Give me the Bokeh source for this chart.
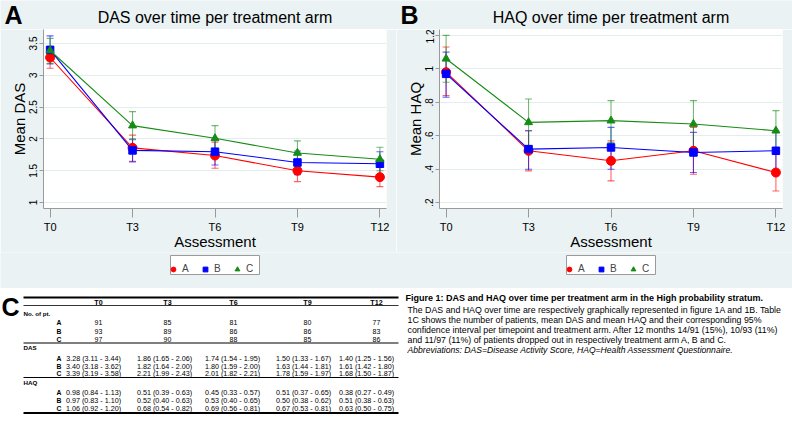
from bokeh.plotting import figure
from bokeh.models import (Range1d, FixedTicker, Legend, LegendItem, Whisker,
                          TeeHead, ColumnDataSource)
from bokeh.layouts import column, row
from bokeh.embed import file_html
from bokeh.resources import INLINE
from bokeh.core.properties import value

# ---------------- data ----------------
timepoints = ["T0", "T3", "T6", "T9", "T12"]
months = [0, 3, 6, 9, 12]
arms = ["A", "B", "C"]

n_pt_A = [91, 85, 81, 80, 77]
n_pt_B = [93, 89, 86, 86, 83]
n_pt_C = [97, 90, 88, 85, 86]

das_mean_A = [3.28, 1.86, 1.74, 1.50, 1.40]
das_low_A = [3.11, 1.65, 1.54, 1.33, 1.25]
das_high_A = [3.44, 2.06, 1.95, 1.67, 1.56]
das_mean_B = [3.40, 1.82, 1.80, 1.63, 1.61]
das_low_B = [3.18, 1.64, 1.59, 1.44, 1.42]
das_high_B = [3.62, 2.00, 2.00, 1.81, 1.80]
das_mean_C = [3.39, 2.21, 2.01, 1.78, 1.68]
das_low_C = [3.19, 1.99, 1.82, 1.59, 1.50]
das_high_C = [3.58, 2.43, 2.21, 1.97, 1.87]

haq_mean_A = [0.98, 0.51, 0.45, 0.51, 0.38]
haq_low_A = [0.84, 0.39, 0.33, 0.37, 0.27]
haq_high_A = [1.13, 0.63, 0.57, 0.65, 0.49]
haq_mean_B = [0.97, 0.52, 0.53, 0.50, 0.51]
haq_low_B = [0.83, 0.40, 0.40, 0.38, 0.38]
haq_high_B = [1.10, 0.63, 0.65, 0.62, 0.63]
haq_mean_C = [1.06, 0.68, 0.69, 0.67, 0.63]
haq_low_C = [0.92, 0.54, 0.56, 0.53, 0.50]
haq_high_C = [1.20, 0.82, 0.81, 0.81, 0.75]

das_ticks = [1, 1.5, 2, 2.5, 3, 3.5]
das_tick_labels = ["1", "1.5", "2", "2.5", "3", "3.5"]
haq_ticks = [0.2, 0.4, 0.6, 0.8, 1.0, 1.2]
haq_tick_labels = [".2", ".4", ".6", ".8", "1", "1.2"]

panel_letters = ["A", "B"]
panel_titles = ["DAS over time per treatment arm", "HAQ over time per treatment arm"]
caption_lines = [
    "Figure 1: DAS and HAQ over time per treatment arm in the High probability stratum.",
    "The DAS and HAQ over time are respectively graphically represented in figure 1A and 1B. Table",
    "1C shows the number of patients, mean DAS and mean HAQ and their corresponding 95%",
    "confidence interval per timepoint and treatment arm. After 12 months 14/91 (15%), 10/93 (11%)",
    "and 11/97 (11%) of patients dropped out in respectively treatment arm A, B and C.",
    "Abbreviations: DAS=Disease Activity Score, HAQ=Health Assessment Questionnaire.",
]

# ---------------- styles ----------------
BG = "#EAF2F3"
FONT = "Liberation Sans"
AXIS_GRAY = "#9A9A9A"
arm_colors = {"A": "#FF0000", "B": "#0000FF", "C": "#168C16"}
arm_markers = {"A": "circle", "B": "square", "C": "triangle"}
arm_sizes = {"A": 9, "B": 7.5, "C": 8}


def strip(height, y_top, bg):
    s = figure(width=792, height=height, output_backend="svg", toolbar_location=None,
               x_range=Range1d(0, 792), y_range=Range1d(y_top + height, y_top),
               x_axis_type=None, y_axis_type=None, min_border=0)
    s.outline_line_color = None
    s.background_fill_color = bg
    s.border_fill_color = bg
    return s


# ---- top strip: panel letters and titles ----
top = strip(29, 0, BG)
top.text(x=[4, 400], y=[14, 14], text=panel_letters, text_font=value(FONT),
         text_font_size="25px", text_font_style="bold", text_baseline="middle")
top.text(x=[214.5, 610.5], y=[17.3, 17.3], text=panel_titles, text_font=value(FONT),
         text_font_size="16px", text_align="center", text_baseline="middle")


def make_panel(ylabel, series, yrange, yticks, ylabels):
    p = figure(width=396, height=223, output_backend="svg", toolbar_location=None,
               x_range=Range1d(-0.24, 12.24), y_range=Range1d(*yrange),
               min_border_left=43, min_border_right=10,
               min_border_top=0, min_border_bottom=41)
    p.background_fill_color = "white"
    p.border_fill_color = BG
    p.outline_line_color = None
    p.xgrid.visible = False
    p.ygrid.grid_line_color = "#E3ECEE"
    p.ygrid.ticker = FixedTicker(ticks=yticks)

    xa = p.xaxis[0]
    xa.ticker = FixedTicker(ticks=months)
    xa.major_label_overrides = {m: t for m, t in zip(months, timepoints)}
    xa.axis_line_color = AXIS_GRAY
    xa.major_tick_line_color = AXIS_GRAY
    xa.major_tick_out = 9
    xa.major_tick_in = 0
    xa.minor_tick_line_color = None
    xa.major_label_standoff = 3
    xa.major_label_text_font = FONT
    xa.major_label_text_font_size = "11px"
    xa.major_label_text_color = "black"
    xa.axis_label = "Assessment"
    xa.axis_label_text_font = FONT
    xa.axis_label_text_font_size = "15px"
    xa.axis_label_text_font_style = "normal"
    xa.axis_label_text_color = "black"
    xa.axis_label_standoff = -3

    ya = p.yaxis[0]
    ya.ticker = FixedTicker(ticks=yticks)
    ya.major_label_overrides = {t: l for t, l in zip(yticks, ylabels)}
    ya.axis_line_color = AXIS_GRAY
    ya.major_tick_line_color = AXIS_GRAY
    ya.major_tick_out = 4
    ya.major_tick_in = 0
    ya.minor_tick_line_color = None
    ya.major_label_orientation = "vertical"
    ya.major_label_standoff = 2
    ya.major_label_text_font = FONT
    ya.major_label_text_font_size = "10px"
    ya.major_label_text_color = "black"
    ya.axis_label = ylabel
    ya.axis_label_text_font = FONT
    ya.axis_label_text_font_size = "15px"
    ya.axis_label_text_font_style = "normal"
    ya.axis_label_text_color = "black"
    ya.axis_label_standoff = -1

    for arm in arms:
        mean, low, high = series[arm]
        col = arm_colors[arm]
        src = ColumnDataSource(dict(x=months, m=mean, lo=low, hi=high))
        p.line("x", "m", source=src, line_color=col, line_width=1.1)
        w = Whisker(source=src, base="x", lower="lo", upper="hi", dimension="height",
                    line_color=col, line_alpha=0.6, line_width=1.1,
                    upper_head=TeeHead(size=7, line_color=col, line_alpha=0.6, line_width=1.1),
                    lower_head=TeeHead(size=7, line_color=col, line_alpha=0.6, line_width=1.1))
        p.add_layout(w)
        p.scatter("x", "m", source=src, marker=arm_markers[arm], size=arm_sizes[arm],
                  fill_color=col, line_color=col)
    return p


pA = make_panel("Mean DAS",
                {"A": (das_mean_A, das_low_A, das_high_A),
                 "B": (das_mean_B, das_low_B, das_high_B),
                 "C": (das_mean_C, das_low_C, das_high_C)},
                (0.907, 3.72), das_ticks, das_tick_labels)
pB = make_panel("Mean HAQ",
                {"A": (haq_mean_A, haq_low_A, haq_high_A),
                 "B": (haq_mean_B, haq_low_B, haq_high_B),
                 "C": (haq_mean_C, haq_low_C, haq_high_C)},
                (0.165, 1.235), haq_ticks, haq_tick_labels)

# ---- legend strip (keys for the two panels) ----
leg = strip(36, 252, BG)
box_left = [170, 566]
box_width = 89
leg.quad(left=box_left, right=[b + box_width for b in box_left], top=[255, 255],
         bottom=[274, 274], fill_color="white", line_color=AXIS_GRAY, line_width=1)
key_renderers = []
for arm in arms:
    # a single key point placed far outside the visible strip, only used by the legend
    key_renderers.append(leg.scatter(x=[-1000], y=[-1000], marker=arm_markers[arm],
                                     size=arm_sizes[arm], fill_color=arm_colors[arm],
                                     line_color=arm_colors[arm]))
for bl in box_left:
    legend = Legend(items=[LegendItem(label=a, renderers=[r]) for a, r in zip(arms, key_renderers)],
                    orientation="horizontal", location=(bl - 3, 13.5),
                    glyph_width=12, glyph_height=12, label_height=12, label_width=7,
                    label_standoff=3, spacing=10, padding=3, margin=0,
                    border_line_color=None, background_fill_alpha=0,
                    label_text_font=FONT, label_text_font_size="10px")
    leg.add_layout(legend, "center")

# ---------------- table + caption ----------------
pc = strip(153, 288, "white")

head_x = [98, 167, 233, 307, 376]
val_x = [93, 164, 232, 303, 366]
letter_x = 61
label_x = 23
rule_x0, rule_x1 = 23, 398
y_head = 302
y_npt_label, y_npt_rows = 312.5, [322, 330.5, 338.5]
y_das_label, y_das_rows = 347, [357.5, 365.5, 373]
y_haq_label, y_haq_rows = 381.5, [391.5, 399.5, 407.5]
rules = [(297, 2.0), (305, 0.8), (342.5, 1.2), (377, 1.2), (412.5, 2.0)]

pc.segment(x0=[rule_x0] * len(rules), x1=[rule_x1] * len(rules),
           y0=[r[0] for r in rules], y1=[r[0] for r in rules],
           line_width=[r[1] for r in rules], line_color="black")

pc.text(x=head_x, y=[y_head] * 5, text=timepoints, text_font=value(FONT),
        text_font_size="7.2px", text_font_style="bold", text_align="center", text_baseline="middle")
pc.text(x=[label_x] * 3, y=[y_npt_label, y_das_label, y_haq_label],
        text=["No. of pt.", "DAS", "HAQ"], text_font=value(FONT), text_font_size="6.2px",
        text_font_style="bold", text_align="left", text_baseline="middle")
row_letters_y = y_npt_rows + y_das_rows + y_haq_rows
pc.text(x=[letter_x] * 9, y=row_letters_y, text=arms * 3, text_font=value(FONT),
        text_font_size="6.8px", text_font_style="bold", text_align="right", text_baseline="middle")

counts = {"A": n_pt_A, "B": n_pt_B, "C": n_pt_C}
das = {"A": (das_mean_A, das_low_A, das_high_A), "B": (das_mean_B, das_low_B, das_high_B),
       "C": (das_mean_C, das_low_C, das_high_C)}
haq = {"A": (haq_mean_A, haq_low_A, haq_high_A), "B": (haq_mean_B, haq_low_B, haq_high_B),
       "C": (haq_mean_C, haq_low_C, haq_high_C)}

cx, cy, ct = [], [], []
for i, arm in enumerate(arms):
    for j in range(5):
        cx.append(head_x[j]); cy.append(y_npt_rows[i]); ct.append(str(counts[arm][j]))
vx, vy, vt = [], [], []
for block, ys in ((das, y_das_rows), (haq, y_haq_rows)):
    for i, arm in enumerate(arms):
        m, lo, hi = block[arm]
        for j in range(5):
            vx.append(val_x[j]); vy.append(ys[i])
            vt.append(f"{m[j]:.2f} ({lo[j]:.2f} - {hi[j]:.2f})")
pc.text(x=cx, y=cy, text=ct, text_font=value(FONT), text_font_size="7px",
        text_align="center", text_baseline="middle")
pc.text(x=vx, y=vy, text=vt, text_font=value(FONT), text_font_size="7.2px",
        text_align="center", text_baseline="middle")

pc.text(x=[1], y=[306.5], text=["C"], text_font=value(FONT), text_font_size="25px",
        text_font_style="bold", text_align="left", text_baseline="middle")

cap_x = 407
cap_y = [297, 309, 319, 329, 339.5, 349]
pc.text(x=[cap_x - 2], y=[cap_y[0]], text=[caption_lines[0]], text_font=value(FONT),
        text_font_size="9px", text_font_style="bold", text_baseline="middle")
pc.text(x=[cap_x] * 4, y=cap_y[1:5], text=caption_lines[1:5], text_font=value(FONT),
        text_font_size="8.8px", text_baseline="middle")
pc.text(x=[cap_x], y=[cap_y[5]], text=[caption_lines[5]], text_font=value(FONT),
        text_font_size="8.6px", text_font_style="italic", text_baseline="middle")

layout = column(top, row(pA, pB), leg, pc)
open("out.html", "w").write(file_html(layout, INLINE))
